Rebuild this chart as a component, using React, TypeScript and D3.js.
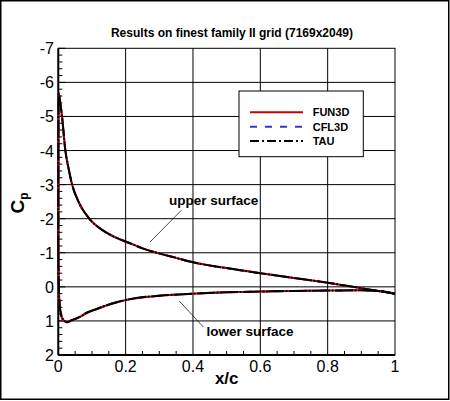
import React from "react";
import * as d3 from "d3";

const upperX = [0, 0.0005, 0.002, 0.005, 0.011, 0.021, 0.03, 0.041, 0.06, 0.092, 0.13, 0.17, 0.213, 0.25, 0.307, 0.35, 0.4, 0.5, 0.6, 0.7, 0.8, 0.9, 0.95, 1.0];
const upperCp = [-1.0, -5.3, -5.67, -5.45, -5.0, -4.0, -3.5, -3.0, -2.5, -2.0, -1.67, -1.45, -1.28, -1.13, -0.96, -0.85, -0.72, -0.55, -0.4, -0.26, -0.12, 0.04, 0.12, 0.2];
const lowerX = [0, 0.003, 0.01, 0.018, 0.025, 0.04, 0.064, 0.085, 0.114, 0.163, 0.213, 0.3, 0.4, 0.5, 0.6, 0.7, 0.8, 0.9, 0.95, 1.0];
const lowerCp = [-1.0, 0.4, 0.88, 1.0, 1.04, 0.98, 0.88, 0.76, 0.65, 0.48, 0.36, 0.26, 0.2, 0.16, 0.14, 0.12, 0.11, 0.1, 0.12, 0.2];

const series = ["CFL3D", "FUN3D", "TAU"];
const legendOrder = ["FUN3D", "CFL3D", "TAU"];
const xTicks = [0, 0.2, 0.4, 0.6, 0.8, 1];
const xTickLabels = ["0", "0.2", "0.4", "0.6", "0.8", "1"];
const yTicks = [-7, -6, -5, -4, -3, -2, -1, 0, 1, 2];
const yTickLabels = ["-7", "-6", "-5", "-4", "-3", "-2", "-1", "0", "1", "2"];

const styles: Record<string, { color: string; dash: string; curveDash: string }> = {
  FUN3D: { color: "#cc0000", dash: "", curveDash: "" },
  CFL3D: { color: "#3333dd", dash: "7,8", curveDash: "7,8" },
  TAU: { color: "#000000", dash: "9,3,2,3", curveDash: "18,1.5,2,1.5" },
};

const FONT = "'Liberation Sans', Arial, Helvetica, sans-serif";

export default function App() {
  const W = 450, H = 401;
  const x = d3.scaleLinear().domain([0, 1]).range([58.3, 395]);
  const y = d3.scaleLinear().domain([-7, 2]).range([48.3, 355]);
  const line = d3
    .line<[number, number]>()
    .x((d) => x(d[0]))
    .y((d) => y(d[1]))
    .curve(d3.curveMonotoneX);
  const up = line(upperX.map((v, i) => [v, upperCp[i]] as [number, number])) || "";
  const lo = line(lowerX.map((v, i) => [v, lowerCp[i]] as [number, number])) || "";

  const xMinor = d3.range(0, 1.0001, 0.05).filter((v) => Math.abs(v * 5 - Math.round(v * 5)) > 1e-6);
  const yMinor = d3.range(-7, 2.0001, 0.2).filter((v) => Math.abs(v - Math.round(v)) > 1e-6);

  const [x0, x1] = x.range();
  const [y0, y1] = y.range();

  return (
    <div style={{ position: "absolute", left: 0, top: 0 }}>
      <svg width={W} height={H} style={{ display: "block" }} fontFamily={FONT}>
        <rect x={0} y={0} width={W} height={H} fill="#fff" />
        <rect x={0.75} y={0.75} width={448} height={398.5} fill="none" stroke="#000" strokeWidth={1.5} />
        <text x={232} y={36.5} textAnchor="middle" fontSize={12} fontWeight="bold">
          Results on finest family II grid (7169x2049)
        </text>
        {xTicks.slice(1, -1).map((t) => (
          <line key={"gx" + t} x1={x(t)} x2={x(t)} y1={y0} y2={y1} stroke="#000" strokeWidth={1} />
        ))}
        {yTicks.slice(1, -1).map((t) => (
          <line key={"gy" + t} x1={x0} x2={x1} y1={y(t)} y2={y(t)} stroke="#000" strokeWidth={1} />
        ))}
        {xMinor.map((t) => (
          <line key={"mx" + t} x1={x(t)} x2={x(t)} y1={y1} y2={y1 - 4} stroke="#000" strokeWidth={1} />
        ))}
        {yMinor.map((t) => (
          <line key={"my" + t} x1={x0} x2={x0 + 4} y1={y(t)} y2={y(t)} stroke="#000" strokeWidth={1} />
        ))}
        {yTicks.map((t) => (
          <line key={"My" + t} x1={x0} x2={x0 + 7} y1={y(t)} y2={y(t)} stroke="#000" strokeWidth={1} />
        ))}
        <rect x={x0} y={y0} width={x1 - x0} height={y1 - y0} fill="none" stroke="#000" strokeWidth={1} />
        <line x1={x0} x2={x0} y1={y0} y2={y1} stroke="#000" strokeWidth={2} />
        <line x1={x0} x2={x1} y1={y1} y2={y1} stroke="#000" strokeWidth={2} />
        {xTicks.map((t, i) => (
          <text key={"xl" + t} x={x(t)} y={372} textAnchor="middle" fontSize={16}>
            {xTickLabels[i]}
          </text>
        ))}
        {yTicks.map((t, i) => (
          <text key={"yl" + t} x={54} y={y(t) + 6} textAnchor="end" fontSize={16}>
            {yTickLabels[i]}
          </text>
        ))}
        <text x={226.7} y={384} textAnchor="middle" fontSize={17} fontWeight="bold">
          x/c
        </text>
        <text transform="translate(24,203) rotate(-90)" textAnchor="middle" fontSize={19} fontWeight="bold">
          C<tspan dy={4} fontSize={12}>p</tspan>
        </text>
        {series.map((s) => (
          <g key={s}>
            <path d={up} fill="none" stroke={styles[s].color} strokeWidth={2} strokeDasharray={styles[s].curveDash} />
            <path d={lo} fill="none" stroke={styles[s].color} strokeWidth={2} strokeDasharray={styles[s].curveDash} />
          </g>
        ))}
        <line x1={181.7} y1={210} x2={150} y2={242} stroke="#000" strokeWidth={0.7} />
        <text x={169} y={205} fontSize={13.5} fontWeight="bold">upper surface</text>
        <line x1={179.3} y1={301} x2={203.3} y2={327} stroke="#000" strokeWidth={0.7} />
        <text x={206.5} y={336} fontSize={13.5} fontWeight="bold">lower surface</text>
        <rect x={239} y={91} width={124.3} height={65.7} fill="#fff" stroke="#000" strokeWidth={1} />
        {legendOrder.map((s, i) => {
          const ly = 112.3 + i * 14.4;
          return (
            <g key={"lg" + s}>
              <line x1={250} x2={303} y1={ly} y2={ly} stroke={styles[s].color} strokeWidth={2} strokeDasharray={styles[s].dash} />
              <text x={312.7} y={ly + 4} fontSize={11} fontWeight="bold">{s}</text>
            </g>
          );
        })}
      </svg>
    </div>
  );
}
